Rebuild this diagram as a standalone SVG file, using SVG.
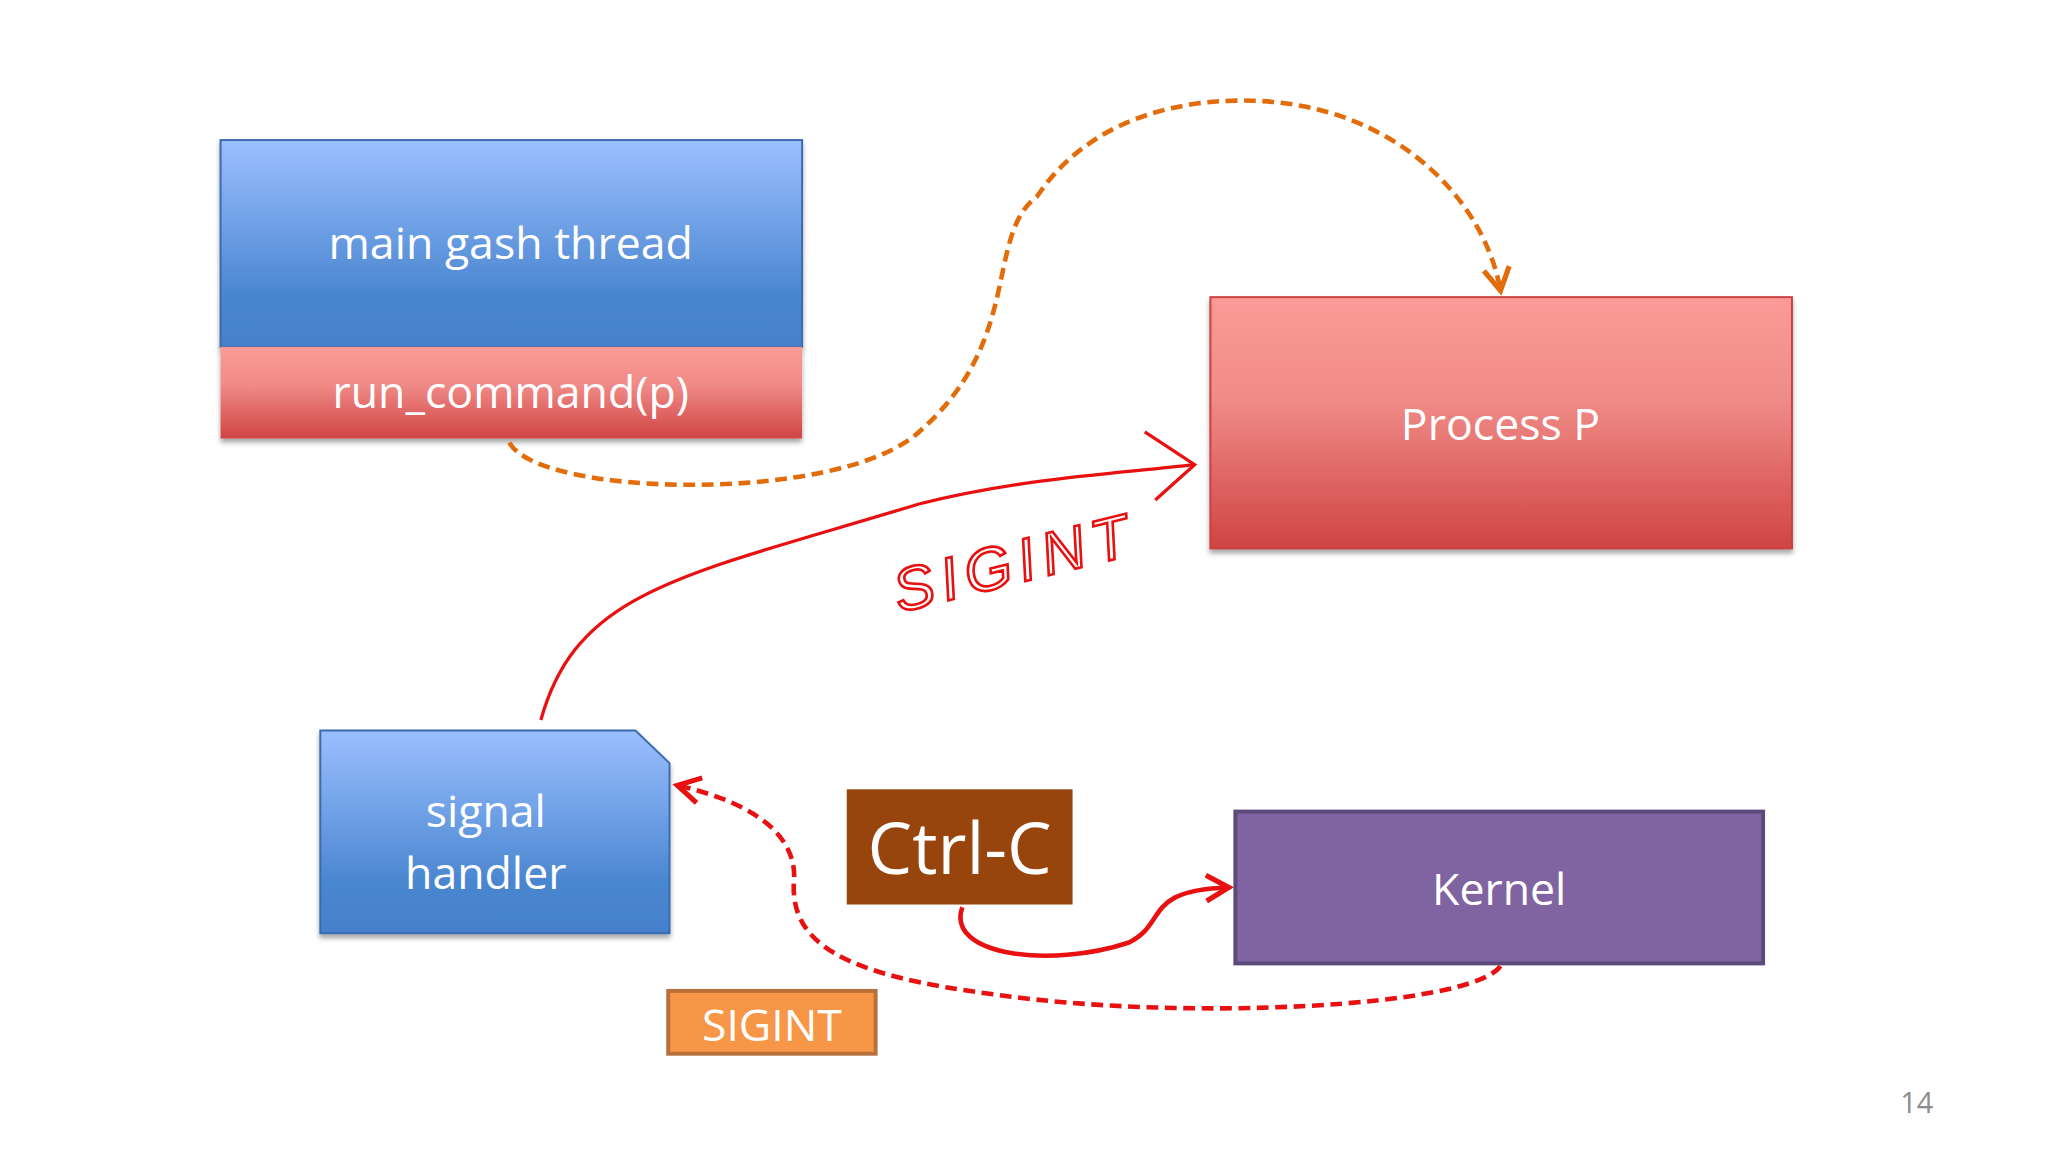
<svg xmlns="http://www.w3.org/2000/svg" width="2048" height="1152" viewBox="0 0 2048 1152">
<defs>
<linearGradient id="gb" x1="0" y1="0" x2="0" y2="1"><stop offset="0" stop-color="#9BBFFF"/><stop offset="0.75" stop-color="#4A86D0"/><stop offset="1" stop-color="#4580CC"/></linearGradient>
<linearGradient id="gr" x1="0" y1="0" x2="0" y2="1"><stop offset="0" stop-color="#FB9A96"/><stop offset="0.4" stop-color="#F08C88"/><stop offset="1" stop-color="#D04444"/></linearGradient>
<filter id="sh" x="-5%" y="-5%" width="110%" height="115%"><feDropShadow dx="0" dy="3" stdDeviation="2" flood-opacity="0.35"/></filter>
<marker id="ao" viewBox="0 0 10 10" refX="8" refY="5" markerWidth="7" markerHeight="7" orient="auto"><path d="M1,1 L8,5 L1,9" fill="none" stroke="#E36C0A" stroke-width="1.6"/></marker>
<marker id="ar" viewBox="0 0 10 10" refX="8" refY="5" markerWidth="7" markerHeight="7" orient="auto"><path d="M1,1 L8,5 L1,9" fill="none" stroke="#E81010" stroke-width="1.6"/></marker>
</defs>
<style>
.t{font-family:"Open Sans","Liberation Sans",sans-serif;fill:#fff;text-anchor:middle}
</style>
<rect width="2048" height="1152" fill="#fff"/>
<g transform="scale(1.3128,1.309)">
<g id="main">
<rect x="168" y="107" width="443" height="158" fill="url(#gb)" stroke="#3A6BB0" stroke-width="1.5" filter="url(#sh)"/>
<text class="t" x="389" y="198" font-size="34">main gash thread</text>
</g>
<g id="run">
<rect x="168" y="265" width="443" height="70" fill="url(#gr)" filter="url(#sh)"/>
<text class="t" x="389" y="312" font-size="34">run_command(p)</text>
</g>
<g id="proc">
<rect x="922" y="227" width="443" height="192" fill="url(#gr)" stroke="#C84040" stroke-width="1.5" filter="url(#sh)"/>
<text class="t" x="1143" y="336" font-size="34">Process P</text>
</g>
<g id="handler">
<path d="M244,558 L484,558 L510,583 L510,713 L244,713 Z" fill="url(#gb)" stroke="#3A6BB0" stroke-width="1.5" filter="url(#sh)"/>
<text class="t" x="370" y="632" font-size="34">signal</text>
<text class="t" x="370" y="679" font-size="34">handler</text>
</g>
<g id="ctrlc">
<rect x="645" y="603" width="172" height="88" fill="#97440D"/>
<text class="t" x="731" y="668" font-size="54">Ctrl-C</text>
</g>
<g id="kernel">
<rect x="941" y="620" width="402" height="116" fill="#8064A2" stroke="#5C4A7A" stroke-width="3"/>
<text class="t" x="1142" y="691" font-size="34">Kernel</text>
</g>
<g id="sigint">
<rect x="509" y="757" width="158" height="48" fill="#F79646" stroke="#B8703A" stroke-width="3"/>
<text class="t" x="588" y="795" font-size="34">SIGINT</text>
</g>
<g id="connectors" fill="none">
<path d="M388,338 C410,380 640,385 700,330 C780,260 750,180 790,150 C830,90 900,75 955,77 C1060,80 1130,150 1143,222" stroke="#E36C0A" stroke-width="3.5" stroke-dasharray="9,5" marker-end="url(#ao)"/>
<path d="M412,550 C440,450 520,440 700,385 C780,365 850,362 910,355" stroke="#E81010" stroke-width="2.5"/>
<path d="M872,330 L910,355 L880,382" stroke="#E81010" stroke-width="2.5"/>
<path d="M1143,738 C1120,770 900,780 760,760 C640,745 600,720 605,670 C605,630 560,610 516,600" stroke="#E81010" stroke-width="3.5" stroke-dasharray="9,5" marker-end="url(#ar)"/>
<path d="M733,693 C720,730 800,740 860,720 C890,705 870,680 936,678" stroke="#E81010" stroke-width="3.5" marker-end="url(#ar)"/>
</g>
<text x="685" y="468" transform="rotate(-14 685 468)" font-family="Liberation Sans,sans-serif" font-style="italic" font-size="46" fill="none" stroke="#E81010" stroke-width="2" letter-spacing="6">SIGINT</text>
<text x="1460" y="850" font-family="Open Sans,Liberation Sans,sans-serif" font-size="22" fill="#8C8C8C" text-anchor="middle">14</text>
</g>
</svg>
